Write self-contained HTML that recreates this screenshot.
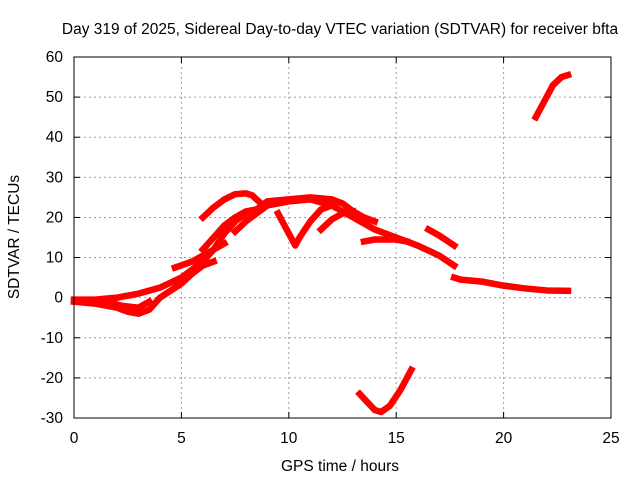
<!DOCTYPE html>
<html><head><meta charset="utf-8"><style>
body{margin:0;background:#fff}
svg{display:block;font-family:"Liberation Sans",sans-serif;font-size:15.5px}
</style></head><body>
<svg id="c" width="640" height="480">
<text x="340" y="34" text-anchor="middle">Day 319 of 2025, Sidereal Day-to-day VTEC variation (SDTVAR) for receiver bfta</text>
<text x="340" y="471" text-anchor="middle">GPS time / hours</text>
<text transform="translate(19,237) rotate(-90)" text-anchor="middle">SDTVAR / TECUs</text>
<g id="grid"></g><g id="ticks"></g><g id="series"></g>
<rect x="74" y="57" width="537" height="361" fill="none" stroke="#000" stroke-width="1"/>
</svg>
<script>
const xTicks=[0,5,10,15,20,25];
const yTicks=[-30,-20,-10,0,10,20,30,40,50,60];
const trackA=[[0,-0.5],[1,-0.5],[2,0],[3,1],[4,2.5],[5,5],[6,9],[6.5,12],[7,16],[7.5,19],[8,21],[8.5,22],[9,23],[10,24],[11,24.5],[12,23],[13,20],[14,17],[15,15],[16,13],[17,10.5],[17.7,8]];
const trackB=[[0,-1],[1,-1.5],[2,-2.5],[2.5,-3.5],[3,-4],[3.5,-3],[4,0],[5,3.5],[5.5,6],[6,8],[6.5,9]];
const trackC=[[1.5,-1],[2.2,-2],[3,-2.5],[3.5,-1]];
const trackD=[[6,20],[6.5,22.5],[7,24.5],[7.5,25.8],[8,26],[8.3,25.5],[8.6,24]];
const trackE=[[4.7,7.5],[5.5,9],[6,10.5],[6.5,12],[7,13.5]];
const trackF=[[6,12],[6.5,15],[7,18],[7.5,20],[8,21.5],[8.5,22]];
const trackG=[[7.5,16.5],[8,19],[8.5,21],[9,23]];
const trackH=[[8.5,22],[9,24],[10,24.5],[11,25],[12,24.5],[12.5,23.5],[13,21.5],[13.5,20],[14,19]];
const trackI=[[9.5,21],[10,16],[10.3,13],[10.5,15],[11,19],[11.5,22],[12,23]];
const trackJ=[[11.5,17],[12,19.5],[12.5,21],[13,21.5]];
const trackK=[[13.5,14],[14,14.5],[15,14.5],[15.5,14]];
const trackL=[[16.5,17],[17,15.5],[17.7,13]];
const trackM=[[17.7,5],[18,4.5],[19,4],[20,3],[21,2.3],[22,1.8],[23,1.7]];
const trackN=[[13.3,-24],[14,-28],[14.3,-28.5],[14.7,-27],[15.2,-23],[15.7,-18]];
const trackO=[[21.5,45],[22,50],[22.3,53],[22.7,55],[23,55.5]];
const tracks=[trackA,trackB,trackC,trackD,trackE,trackF,trackG,trackH,trackI,trackJ,trackK,trackL,trackM,trackN,trackO];
const X0=74,X1=611,Y0=418,Y1=57;
const sx=v=>X0+(v-0)/25*(X1-X0);
const sy=v=>Y0-(v+30)/90*(Y0-Y1);
const NS="http://www.w3.org/2000/svg";
const grid=document.getElementById('grid'),ticks=document.getElementById('ticks'),series=document.getElementById('series');
function mk(tag,attrs,parent){const e=document.createElementNS(NS,tag);for(const k in attrs)e.setAttribute(k,attrs[k]);parent.appendChild(e);return e;}
xTicks.forEach(t=>{const x=sx(t);
 if(t>0&&t<25){const g=mk('line',{x1:x,x2:x,y1:Y1,y2:Y0,stroke:'#a0a0a0','stroke-dasharray':'2,3'},grid);
 
 }
 mk('line',{x1:x,x2:x,y1:Y0,y2:Y0-6,stroke:'#000'},ticks);mk('line',{x1:x,x2:x,y1:Y1,y2:Y1+6,stroke:'#000'},ticks);
 const l=mk('text',{x:x,y:443,'text-anchor':'middle'},ticks);l.textContent=t;
 
 });
yTicks.forEach(t=>{const y=sy(t);
 if(t>-30&&t<60){const g=mk('line',{x1:X0,x2:X1,y1:y,y2:y,stroke:'#a0a0a0','stroke-dasharray':'2,3'},grid);
 
 }
 mk('line',{x1:X0,x2:X0+6,y1:y,y2:y,stroke:'#000'},ticks);mk('line',{x1:X1,x2:X1-6,y1:y,y2:y,stroke:'#000'},ticks);
 const l=mk('text',{x:63,y:y+5,'text-anchor':'end'},ticks);l.textContent=t;
 
 });
tracks.forEach((tr,i)=>{
 const p=mk('polyline',{points:tr.map(d=>sx(d[0])+','+sy(d[1])).join(' '),fill:'none',stroke:'#ff0000','stroke-width':6.5,'stroke-linejoin':'round','stroke-linecap':'square'},series);
 
 
});
</script>
</body></html>
